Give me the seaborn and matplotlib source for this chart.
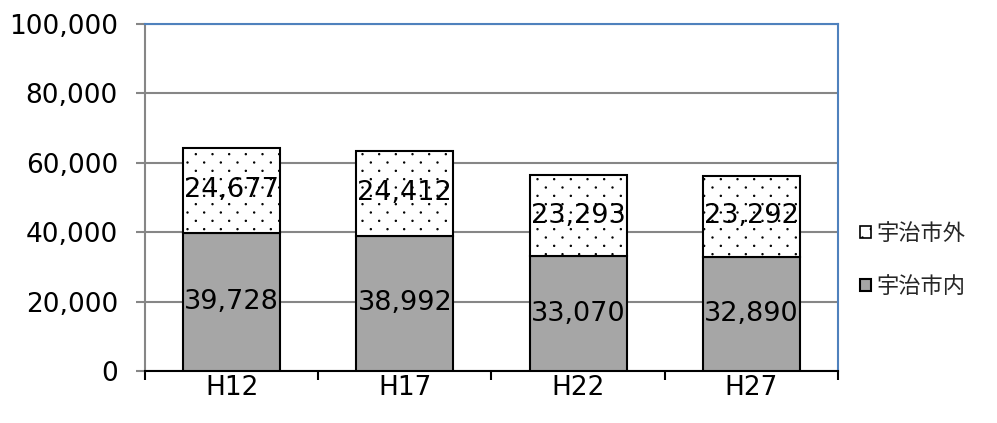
import matplotlib
matplotlib.use("Agg")
import matplotlib.pyplot as plt
import matplotlib.ticker as mticker
import matplotlib.hatch as mhatch
from matplotlib.patches import Patch
from matplotlib.path import Path
import numpy as np
import pandas as pd
import seaborn as sns

# Commuter counts by survey year
years = ["H12", "H17", "H22", "H27"]
inside_city = [39728, 38992, 33070, 32890]    # 宇治市内
outside_city = [24677, 24412, 23293, 23292]   # 宇治市外
legend_labels = ["宇治市外", "宇治市内"]
y_ticks = [0, 20000, 40000, 60000, 80000, 100000]


class StaggeredDots(mhatch.HatchPatternBase):
    """Fine dot texture for '.': columns every 1/density of a hatch cell,
    rows twice as dense, alternate rows shifted by half a column."""

    radius = 0.005

    def __init__(self, hatch, density):
        n = hatch.count(".") * density
        pts = []
        if n:
            step = 1.0 / n
            for r in range(2 * n):
                y = (r + 0.5) * step / 2
                shift = 0.25 * step if r % 2 == 0 else 0.75 * step
                for c in range(n):
                    pts.append((c * step + shift, y))
        self.centers = np.array(pts, dtype=float).reshape(-1, 2)
        self.circle = Path.unit_circle()
        self.num_vertices = len(self.centers) * len(self.circle.vertices)

    def set_vertices_and_codes(self, vertices, codes):
        nv = len(self.circle.vertices)
        for i, (x, y) in enumerate(self.centers):
            vertices[i * nv:(i + 1) * nv] = self.circle.vertices * self.radius + (x, y)
            codes[i * nv:(i + 1) * nv] = self.circle.codes


mhatch._hatch_types = [StaggeredDots if t is mhatch.SmallFilledCircles else t
                       for t in mhatch._hatch_types]

sns.set_theme(style="white")
plt.rcParams["font.family"] = ["DejaVu Sans", "Noto Sans CJK JP"]
plt.rcParams["hatch.linewidth"] = 1.0
plt.rcParams["hatch.color"] = "black"

df = pd.DataFrame({"year": years, "inside": inside_city, "outside": outside_city})

fig = plt.figure(figsize=(9.97, 4.23), dpi=100)
ax = fig.add_axes([0.1454, 0.1229, 0.6951, 0.8204])

bar_w = 0.56
sns.barplot(data=df, x="year", y="inside", order=years, color="#A6A6A6",
            saturation=1, width=bar_w, edgecolor="black", linewidth=1.5,
            ax=ax, zorder=3)
sns.barplot(data=df, x="year", y="outside", order=years, color="white",
            saturation=1, width=bar_w, edgecolor="black", linewidth=1.5,
            hatch=".", bottom=np.array(inside_city), ax=ax, zorder=3)

for cont in ax.containers:
    ax.bar_label(cont, labels=[f"{v:,.0f}" for v in cont.datavalues],
                 label_type="center", fontsize=19.5, color="black", zorder=5)

ax.set_ylim(0, 100000)
ax.set_xlim(-0.5, 3.5)
ax.set_yticks(y_ticks)
ax.yaxis.set_major_formatter(mticker.FuncFormatter(lambda v, p: f"{v:,.0f}"))
ax.set_xlabel("")
ax.set_ylabel("")

ax.grid(axis="y", color="#868686", linewidth=1.5, zorder=0)
ax.grid(axis="x", visible=False)
ax.set_axisbelow(True)

for side in ("top", "right"):
    ax.spines[side].set_color("#4F81BD")
    ax.spines[side].set_linewidth(1.5)
ax.spines["left"].set_color("#868686")
ax.spines["left"].set_linewidth(1.5)
ax.spines["bottom"].set_color("black")
ax.spines["bottom"].set_linewidth(1.5)

ax.tick_params(axis="y", which="major", left=True, length=6.5, width=1.5,
               color="#868686", labelsize=19, labelcolor="black", pad=13)
ax.tick_params(axis="x", which="major", bottom=False, length=0, labelsize=19,
               labelcolor="black", pad=3)
ax.set_xticks([-0.5, 0.5, 1.5, 2.5, 3.5], minor=True)
ax.tick_params(axis="x", which="minor", bottom=True, length=6.5, width=1.5,
               color="black", direction="out")

handles = [Patch(facecolor="white", edgecolor="black", hatch=".", linewidth=1.2),
           Patch(facecolor="#A6A6A6", edgecolor="black", linewidth=1.5)]
ax.legend(handles, legend_labels, loc="center left", bbox_to_anchor=(1.0, 0.32),
          frameon=False, prop={"family": ["Noto Sans CJK JP"], "size": 16},
          handlelength=0.5, handleheight=0.5, handletextpad=0.25,
          labelspacing=1.35, borderaxespad=0.6)

fig.savefig("out.png", dpi=100)
